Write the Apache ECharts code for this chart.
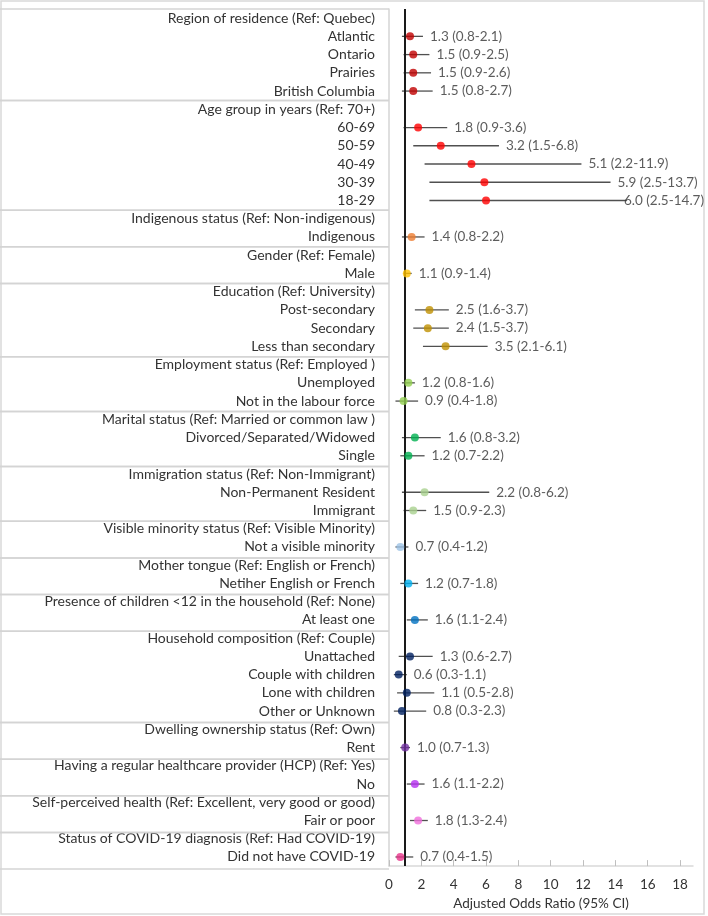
<!DOCTYPE html>
<html><head><meta charset="utf-8">
<script src="https://cdn.jsdelivr.net/npm/echarts@6/dist/echarts.min.js"></script>
<style>html,body{margin:0;padding:0;background:#fff}#c{width:708px;height:916px}</style>
</head><body><div id="c"></div>
<script>
const groupTitles = [
  'Region of residence (Ref: Quebec)',
  'Age group in years (Ref: 70+)',
  'Indigenous status (Ref: Non-indigenous)',
  'Gender (Ref: Female)',
  'Education (Ref: University)',
  'Employment status (Ref: Employed )',
  'Marital status (Ref: Married or common law )',
  'Immigration status (Ref: Non-Immigrant)',
  'Visible minority status (Ref: Visible Minority)',
  'Mother tongue (Ref: English or French)',
  'Presence of children <12 in the household (Ref: None)',
  'Household composition (Ref: Couple)',
  'Dwelling ownership status (Ref: Own)',
  'Having a regular healthcare provider (HCP) (Ref: Yes)',
  'Self-perceived health (Ref: Excellent, very good or good)',
  'Status of COVID-19 diagnosis (Ref: Had COVID-19)'
];
const groupItems = [
  ['Atlantic','Ontario','Prairies','British Columbia'],
  ['60-69','50-59','40-49','30-39','18-29'],
  ['Indigenous'],
  ['Male'],
  ['Post-secondary','Secondary','Less than secondary'],
  ['Unemployed','Not in the labour force'],
  ['Divorced/Separated/Widowed','Single'],
  ['Non-Permanent Resident','Immigrant'],
  ['Not a visible minority'],
  ['Netiher English or French'],
  ['At least one'],
  ['Unattached','Couple with children','Lone with children','Other or Unknown'],
  ['Rent'],
  ['No'],
  ['Fair or poor'],
  ['Did not have COVID-19']
];
const groupOR = [
  [1.3,1.5,1.5,1.5],
  [1.8,3.2,5.1,5.9,6.0],
  [1.4],
  [1.1],
  [2.5,2.4,3.5],
  [1.2,0.9],
  [1.6,1.2],
  [2.2,1.5],
  [0.7],
  [1.2],
  [1.6],
  [1.3,0.6,1.1,0.8],
  [1.0],
  [1.6],
  [1.8],
  [0.7]
];
const groupLower = [
  [0.8,0.9,0.9,0.8],
  [0.9,1.5,2.2,2.5,2.5],
  [0.8],
  [0.9],
  [1.6,1.5,2.1],
  [0.8,0.4],
  [0.8,0.7],
  [0.8,0.9],
  [0.4],
  [0.7],
  [1.1],
  [0.6,0.3,0.5,0.3],
  [0.7],
  [1.1],
  [1.3],
  [0.4]
];
const groupUpper = [
  [2.1,2.5,2.6,2.7],
  [3.6,6.8,11.9,13.7,14.7],
  [2.2],
  [1.4],
  [3.7,3.7,6.1],
  [1.6,1.8],
  [3.2,2.2],
  [6.2,2.3],
  [1.2],
  [1.8],
  [2.4],
  [2.7,1.1,2.8,2.3],
  [1.3],
  [2.2],
  [2.4],
  [1.5]
];
const groupColors = ['#C00000','#FF0000','#ED7D31','#FFC000','#BF9000','#92D050','#00B050','#A9D18E',
  '#9DC3E6','#00B0F0','#0070C0','#002060','#7030A0','#B530F0','#F06EDC','#E8338A'];
const xTicks = [0,2,4,6,8,10,12,14,16,18];
const refValue = 1;
const axisTitle = 'Adjusted Odds Ratio (95% CI)';

const rowLabels = [], pointData = [], barData = [], labelData = [], groupSpans = [];
groupTitles.forEach((t, g) => {
  const first = rowLabels.length;
  rowLabels.push(t);
  groupItems[g].forEach((name, k) => {
    const r = rowLabels.length;
    rowLabels.push(name);
    const o = groupOR[g][k], lo = groupLower[g][k], hi = groupUpper[g][k];
    pointData.push({value: [o, r], itemStyle: {color: groupColors[g]}});
    barData.push([lo, hi, r]);
    labelData.push({value: [hi, r], name: o.toFixed(1) + ' (' + lo.toFixed(1) + '-' + hi.toFixed(1) + ')'});
  });
  groupSpans.push([first, rowLabels.length - 1]);
});

const FONT = 'Lato, "Noto Sans", sans-serif';
const TXT = '#333333';
const LINE = '#D4D4D4';
const chart = echarts.init(document.getElementById('c'), null, {renderer: 'canvas'});
chart.setOption({
  animation: false,
  textStyle: {fontFamily: FONT},
  graphic: [{type: 'rect', shape: {x: 1, y: 1, width: 703, height: 913}, style: {fill: 'none', stroke: '#D9D9D9', lineWidth: 1.5}, silent: true}],
  grid: [
    {left: 389, right: 15, top: 9, bottom: 47},
    {left: 0, width: 389, top: 9, bottom: 47}
  ],
  xAxis: [
    {gridIndex: 0, type: 'value', min: 0, max: 18.8,
     axisLine: {show: true, lineStyle: {color: '#D9D9D9', width: 1.5}},
     axisTick: {show: true, customValues: xTicks, inside: true, length: 6, lineStyle: {color: '#BFBFBF'}},
     axisLabel: {customValues: xTicks, color: TXT, fontSize: 13.5, margin: 12, fontFamily: FONT},
     splitLine: {show: false},
     name: axisTitle, nameLocation: 'middle', nameGap: 27,
     nameTextStyle: {color: TXT, fontSize: 13.5, fontFamily: FONT}},
    {gridIndex: 1, type: 'value', min: 0, max: 1, show: false}
  ],
  yAxis: [
    {gridIndex: 0, type: 'category', data: rowLabels, inverse: true,
     axisLine: {show: true, lineStyle: {color: LINE, width: 1.5}},
     axisTick: {show: false},
     axisLabel: {interval: 0, color: TXT, fontSize: 14, margin: 14, fontFamily: FONT},
     splitLine: {show: false}},
    {gridIndex: 1, type: 'category', data: rowLabels, inverse: true, show: false}
  ],
  series: [
    {type: 'custom', xAxisIndex: 1, yAxisIndex: 1, data: groupSpans, silent: true,
     encode: {x: -1, y: [0, 1]},
     renderItem(params, api) {
       const a = api.coord([0, api.value(0)]);
       const b = api.coord([1, api.value(0)]);
       const c = api.coord([0, api.value(1)]);
       const h = api.size([0, 1])[1];
       const st = {stroke: LINE, lineWidth: 1.5};
       return {type: 'group', children: [
         {type: 'line', shape: {x1: a[0], y1: a[1] - h / 2, x2: b[0], y2: a[1] - h / 2}, style: st},
         {type: 'line', shape: {x1: a[0], y1: c[1] + h / 2, x2: b[0], y2: c[1] + h / 2}, style: st}
       ]};
     }},
    {type: 'custom', xAxisIndex: 0, yAxisIndex: 0, data: barData, silent: true,
     encode: {x: [0, 1], y: 2},
     renderItem(params, api) {
       const lo = api.coord([api.value(0), api.value(2)]);
       const hi = api.coord([api.value(1), api.value(2)]);
       return {type: 'line', shape: {x1: lo[0], y1: lo[1], x2: hi[0], y2: hi[1]}, style: {stroke: '#505050', lineWidth: 1.3}};
     }},
    {type: 'scatter', xAxisIndex: 0, yAxisIndex: 0, data: pointData, symbolSize: 8, z: 5, silent: true,
     markLine: {silent: true, symbol: ['none', 'none'], label: {show: false},
       lineStyle: {color: '#1a1a1a', width: 2, type: 'solid'}, data: [{xAxis: refValue}]}},
    {type: 'scatter', xAxisIndex: 0, yAxisIndex: 0, data: labelData, symbolSize: 0, silent: true,
     label: {show: true, position: 'right', distance: 7, formatter: p => p.name, color: TXT, fontSize: 13.5, fontFamily: FONT},
     labelLayout(p) {
       const r = p.labelRect, maxX = 704;
       if (r.x + r.width > maxX) return {dx: maxX - (r.x + r.width)};
       return {};
     }}
  ]
});
</script></body></html>
